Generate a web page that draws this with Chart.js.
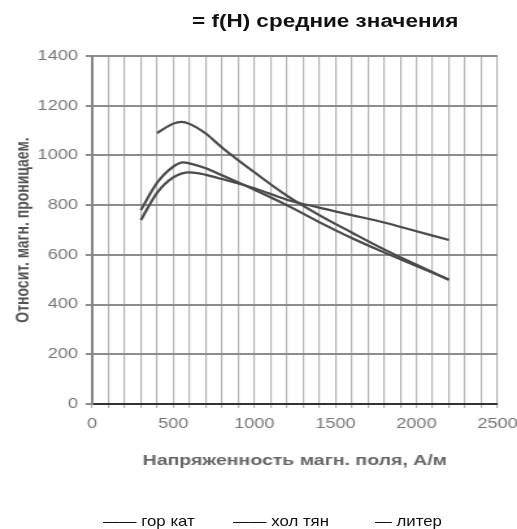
<!DOCTYPE html>
<html>
<head>
<meta charset="utf-8">
<script src="https://cdn.jsdelivr.net/npm/chart.js@4/dist/chart.umd.min.js"></script>
<style>
  body { margin: 0; background: #fff; width: 517px; height: 529px; overflow: hidden; position: relative; font-family: "Liberation Sans", Arial, sans-serif; }
  /* the source picture is stretched sideways, so the chart is drawn narrow and widened */
  #wrap { position: absolute; left: 0; top: 0; width: 398px; height: 529px; transform: scaleX(1.299); transform-origin: 0 0; }
  #title { position: absolute; top: 11px; left: 192px; font-size: 18px; font-weight: bold; color: #111; white-space: nowrap; transform: scaleX(1.25); transform-origin: 0 0; }
  #legend span { position: absolute; top: 512px; font-size: 15px; color: #111; white-space: nowrap; transform: scaleX(1.12); transform-origin: 0 0; }
</style>
</head>
<body>
<div id="wrap"><canvas id="chart"></canvas></div>
<div id="title">= f(H) средние значения</div>
<div id="legend"></div>
<script>
// field strength, A/m
const hGorKat = [400, 500, 550, 600, 700, 800, 1000, 1200, 1400, 1600, 1800, 2000, 2200];
const gorKat = [1090, 1128, 1135, 1127, 1088, 1032, 932, 838, 760, 690, 622, 560, 500];

const hHolTyan = [300, 400, 500, 560, 600, 700, 800, 1000, 1200, 1400, 1600, 1800, 2000, 2200];
const holTyan = [780, 890, 955, 972, 968, 948, 920, 862, 800, 732, 668, 610, 555, 500];

const hLiter = [300, 400, 500, 600, 700, 800, 1000, 1200, 1400, 1600, 1800, 2000, 2200];
const liter = [740, 850, 912, 932, 922, 905, 868, 822, 790, 760, 730, 695, 660];

const seriesNames = ["гор кат", "хол тян", "литер"];
const legendDashes = ["——", "——", "—"];
const xTickLabels = [0, 500, 1000, 1500, 2000, 2500];
const yTickLabels = [0, 200, 400, 600, 800, 1000, 1200, 1400];

const toPoints = (xs, ys) => xs.map((x, i) => ({ x: x, y: ys[i] }));

const lineStyle = {
  borderColor: "#4a4a4a",
  borderWidth: 2.2,
  pointRadius: 0,
  fill: false,
  cubicInterpolationMode: "monotone",
};

new Chart(document.getElementById("chart"), {
  type: "line",
  data: {
    datasets: [
      { label: seriesNames[0], data: toPoints(hGorKat, gorKat), ...lineStyle },
      { label: seriesNames[1], data: toPoints(hHolTyan, holTyan), ...lineStyle },
      { label: seriesNames[2], data: toPoints(hLiter, liter), ...lineStyle },
    ],
  },
  options: {
    responsive: true,
    maintainAspectRatio: false,
    animation: false,
    layout: { padding: { top: 56, left: 6, right: 15, bottom: 55 } },
    plugins: { legend: { display: false }, title: { display: false }, tooltip: { enabled: false } },
    scales: {
      x: {
        type: "linear",
        min: 0,
        max: 2500,
        afterFit: (scale) => {
          scale.height = 70;
          // let the last label run off the edge like in the source
          scale.paddingLeft = 0;
          scale.paddingRight = 0;
        },
        ticks: {
          stepSize: 100,
          autoSkip: false,
          maxRotation: 0,
          padding: 8,
          color: "#777",
          font: { family: "Liberation Sans", size: 14 },
          callback: (v) => (xTickLabels.includes(v) ? String(v) : ""),
        },
        grid: { color: "#b4b4b4", lineWidth: 1.2, tickLength: 4 },
        border: { color: "#333", width: 2 },
        title: {
          display: true,
          text: "Напряженность магн. поля, А/м",
          color: "#666",
          font: { family: "Liberation Sans", size: 15, weight: "bold" },
          padding: { top: 6 },
        },
      },
      y: {
        min: 0,
        max: 1400,
        afterFit: (scale) => { scale.width = 65; },
        ticks: {
          stepSize: 200,
          padding: 6,
          color: "#777",
          font: { family: "Liberation Sans", size: 14 },
          callback: (v) => (yTickLabels.includes(v) ? String(v) : ""),
        },
        grid: { color: "#8c8c8c", lineWidth: 2, tickLength: 5 },
        border: { color: "#888", width: 2 },
        title: {
          display: true,
          text: "Относит. магн. проницаем.",
          color: "#555",
          font: { family: "Liberation Sans", size: 14, weight: "bold" },
          padding: { bottom: 2 },
        },
      },
    },
  },
});

// legend drawn from the series names
const legend = document.getElementById("legend");
const legendX = [103, 233, 375];
seriesNames.forEach((name, i) => {
  const s = document.createElement("span");
  s.style.left = legendX[i] + "px";
  s.textContent = legendDashes[i] + " " + name;
  legend.appendChild(s);
});
</script>
</body>
</html>
